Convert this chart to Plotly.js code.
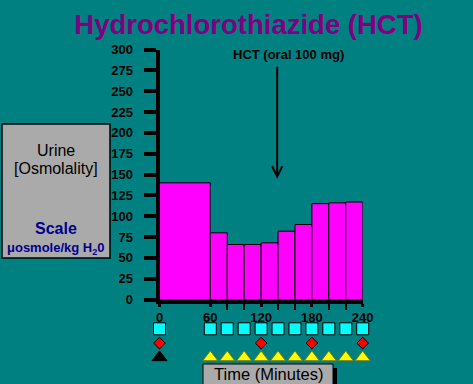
<!DOCTYPE html>
<html>
<head>
<meta charset="utf-8">
<script src="https://cdn.plot.ly/plotly-3.0.1.min.js"></script>
<style>html,body{margin:0;padding:0;background:#008080;}#chart{width:473px;height:384px;}</style>
</head>
<body>
<div id="chart"></div>
<script>
// ---- data ----
const binStart = [0, 60, 80, 100, 120, 140, 160, 180, 200, 220];
const binEnd   = [60, 80, 100, 120, 140, 160, 180, 200, 220, 240];
const osmolality = [140, 80, 66, 66, 68, 82, 90, 115, 116, 117];
const xTickLabels = [0, 60, 120, 180, 240];
const squareTimes = [0, 60, 80, 100, 120, 140, 160, 180, 200, 220, 240];
const diamondTimes = [0, 120, 180, 240];
const blackTriangleTimes = [0];
const yellowTriangleTimes = [60, 80, 100, 120, 140, 160, 180, 200, 220, 240];
const hctDoseTime = 139;
const hctArrowValue = 145;

// ---- helpers ----
const W = 473, H = 384;
const px = v => v / W;
const py = v => 1 - v / H;

const widths = binStart.map((s, i) => binEnd[i] - s);
const edges = Array.from(new Set(binStart.concat(binEnd)));
const minorEdges = edges.filter(e => xTickLabels.indexOf(e) < 0);

const bars = {
  type: 'bar', x: binStart, y: osmolality, width: widths, offset: 0,
  marker: {color: '#ff00ff', line: {color: '#000000', width: 1}},
  xaxis: 'x', yaxis: 'y', hoverinfo: 'skip'
};
const rowTrace = (times, row, symbol, color, size, lineColor) => ({
  type: 'scatter', mode: 'markers', x: times, y: times.map(() => row),
  marker: {symbol: symbol, size: size, color: color, line: {color: lineColor, width: 1}},
  xaxis: 'x', yaxis: 'y2', hoverinfo: 'skip', cliponaxis: false
});
// invisible trace to activate xaxis2 (minor ticks)
const ghost = {type: 'scatter', mode: 'markers', x: [0], y: [0], marker: {opacity: 0},
  xaxis: 'x2', yaxis: 'y', hoverinfo: 'skip'};

const data = [
  bars,
  rowTrace(squareTimes, 1, 'square', '#00ffff', 12, '#000000'),
  rowTrace(diamondTimes, 2, 'diamond', '#ff0000', 9, '#000000'),
  rowTrace(blackTriangleTimes, 3, 'triangle-up', '#000000', 13, '#000000'),
  rowTrace(yellowTriangleTimes, 3, 'triangle-up', '#ffff00', 13, '#808000'),
  ghost
];

const xDom = [px(159.5), px(362.7)];
const layout = {
  width: W, height: H,
  margin: {l: 0, r: 0, t: 0, b: 0},
  paper_bgcolor: '#008080', plot_bgcolor: '#008080',
  showlegend: false,
  font: {family: 'Liberation Sans, Arial, sans-serif', color: '#000000'},
  title: {text: '<b>Hydrochlorothiazide (HCT)</b>', font: {size: 27.5, color: '#800080', family: 'Liberation Sans, Arial, sans-serif'},
          x: px(248.5), xanchor: 'center', y: py(24), yanchor: 'middle'},
  xaxis: {domain: xDom, range: [0, 240], anchor: 'y', showgrid: false, zeroline: false,
          showline: true, linecolor: '#000000', linewidth: 4,
          ticks: 'outside', tickvals: xTickLabels, ticktext: xTickLabels.map(String),
          ticklen: 3, tickwidth: 3, tickcolor: '#000000',
          tickfont: {size: 13, weight: 'bold', color: '#000000'}, fixedrange: true},
  xaxis2: {domain: xDom, range: [0, 240], anchor: 'y', overlaying: 'x', side: 'bottom',
           showgrid: false, zeroline: false, showline: false, showticklabels: false,
           ticks: 'outside', tickvals: minorEdges, ticklen: 9, tickwidth: 2, tickcolor: '#000000'},
  yaxis: {domain: [py(299.5), py(49.5)], range: [0, 300], anchor: 'x', dtick: 25, tick0: 0,
          showgrid: false, zeroline: false, showline: true, linecolor: '#000000', linewidth: 4,
          ticks: 'outside', ticklen: 12, tickwidth: 4, tickcolor: '#000000',
          tickfont: {size: 13, weight: 'bold', color: '#000000'}, ticklabelstandoff: 8, fixedrange: true},
  yaxis2: {domain: [0, py(300)], range: [4.86, -1.014], anchor: 'x', visible: false, fixedrange: true},
  shapes: [
    {type: 'rect', xref: 'paper', yref: 'paper', x0: px(2), x1: px(110), y0: py(258), y1: py(124),
     fillcolor: '#aaaaaa', line: {color: '#000000', width: 1.5}, layer: 'below'},
    {type: 'rect', xref: 'paper', yref: 'paper', x0: px(207), x1: px(337), y0: py(390), y1: py(368),
     fillcolor: '#000000', line: {width: 0}},
    {type: 'rect', xref: 'paper', yref: 'paper', x0: px(203), x1: px(333), y0: py(390), y1: py(364),
     fillcolor: '#aaaaaa', line: {color: '#000000', width: 1}}
  ],
  annotations: [
    {xref: 'paper', yref: 'paper', x: px(288), y: py(55), text: '<b>HCT (oral 100 mg)</b>',
     showarrow: false, font: {size: 13, color: '#000000'}, xanchor: 'center', yanchor: 'middle'},
    {xref: 'x', yref: 'y', x: hctDoseTime, y: hctArrowValue, text: ' ', showarrow: true,
     font: {size: 1}, borderpad: 0,
     ax: 0, ay: -113, arrowhead: 5, arrowwidth: 2, arrowsize: 1, arrowcolor: '#000000'},
    {xref: 'paper', yref: 'paper', x: px(56), y: py(150), text: 'Urine', showarrow: false,
     font: {size: 16, color: '#000000'}, xanchor: 'center', yanchor: 'middle'},
    {xref: 'paper', yref: 'paper', x: px(56), y: py(168), text: '[Osmolality]', showarrow: false,
     font: {size: 16, color: '#000000'}, xanchor: 'center', yanchor: 'middle'},
    {xref: 'paper', yref: 'paper', x: px(56), y: py(228), text: '<b>Scale</b>', showarrow: false,
     font: {size: 16, color: '#000090'}, xanchor: 'center', yanchor: 'middle'},
    {xref: 'paper', yref: 'paper', x: px(56), y: py(248), text: '<b>\u03bcosmole/kg H<sub>2</sub>0</b>', showarrow: false,
     font: {size: 13, color: '#000090'}, xanchor: 'center', yanchor: 'middle'},
    {xref: 'paper', yref: 'paper', x: px(268), y: py(374), text: 'Time (Minutes)', showarrow: false,
     font: {size: 16.5, color: '#000000'}, xanchor: 'center', yanchor: 'middle'}
  ]
};

Plotly.newPlot('chart', data, layout, {staticPlot: true, displayModeBar: false});
</script>
</body>
</html>
